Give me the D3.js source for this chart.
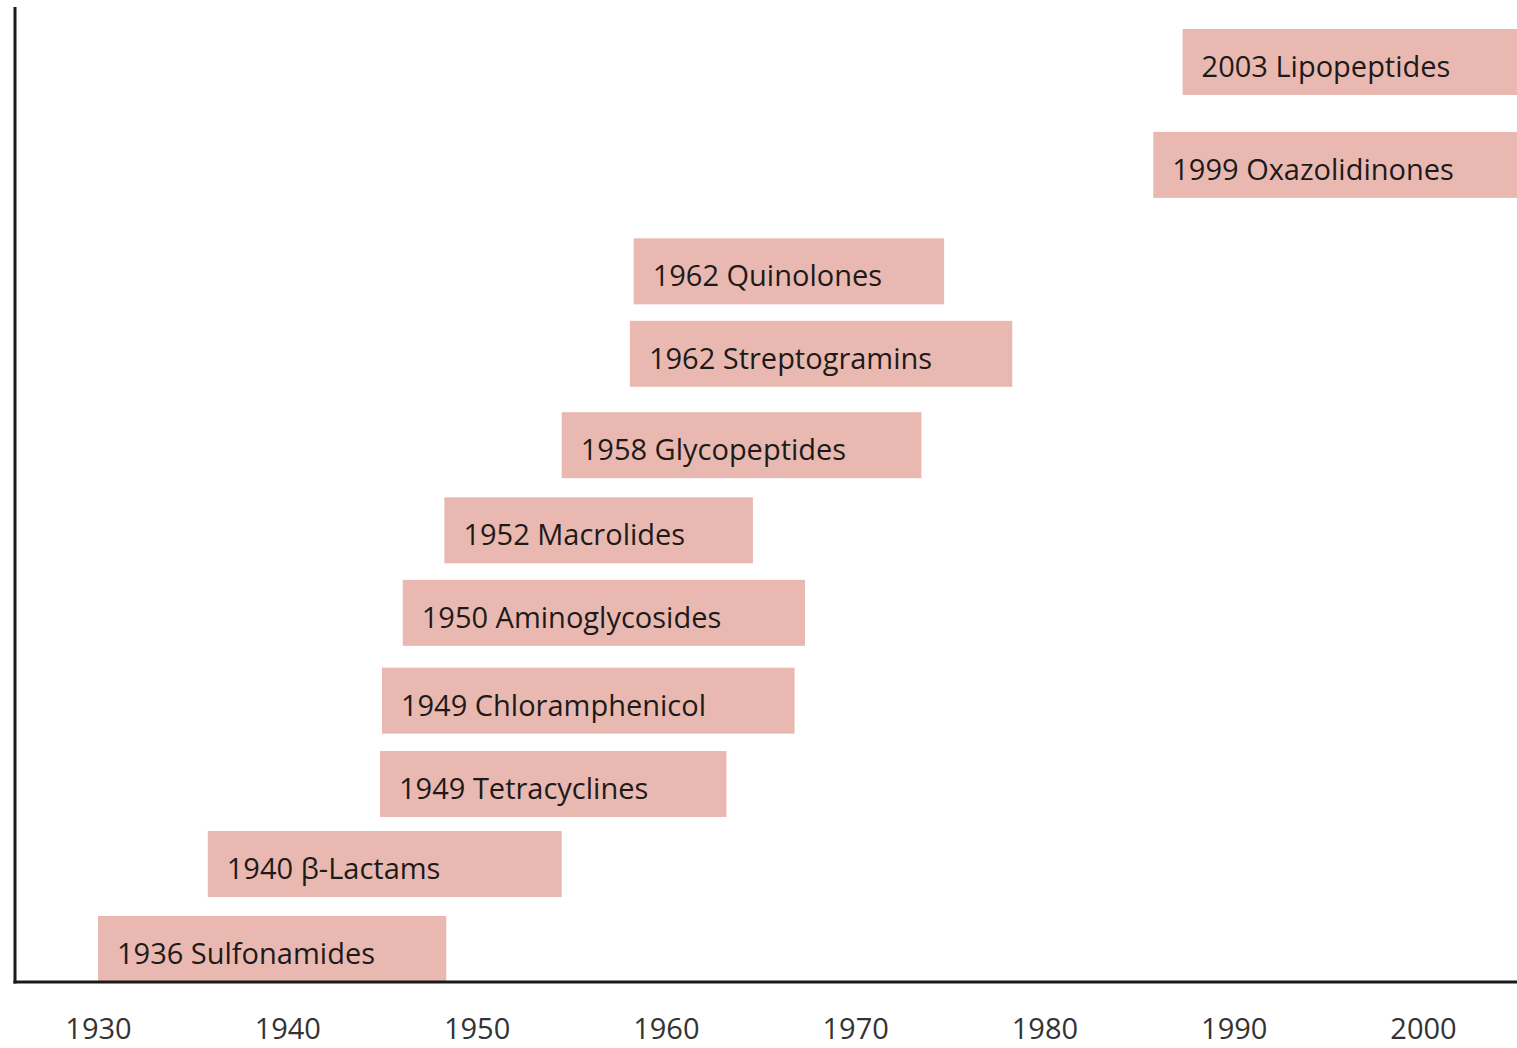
<!DOCTYPE html>
<html>
<head>
<meta charset="utf-8">
<script src="https://cdn.jsdelivr.net/npm/d3@7"></script>
<style>
  body { margin: 0; background: #fff; }
  text { font-family: "Open Sans", "Noto Sans", sans-serif; }
</style>
</head>
<body>
<div id="chart"></div>
<script type="text/javascript">
  const width = 1517,
    height = 1048;

  // antibiotic classes, bottom to top
  const labels = ['1936 Sulfonamides', '1940 \u03b2-Lactams', '1949 Tetracyclines', '1949 Chloramphenicol',
    '1950 Aminoglycosides', '1952 Macrolides', '1958 Glycopeptides', '1962 Streptogramins',
    '1962 Quinolones', '1999 Oxazolidinones', '2003 Lipopeptides'];
  // bar start / end on the year axis
  const barStart = [1930.0, 1935.8, 1944.9, 1945.0, 1946.1, 1948.3, 1954.5, 1958.1, 1958.3, 1985.75, 1987.3];
  const barEnd = [1948.4, 1954.5, 1963.2, 1966.8, 1967.35, 1964.6, 1973.5, 1978.3, 1974.7, 2006, 2006];
  // vertical lane of each bar (bottom edge)
  const rowPos = [0, 0.958, 1.86, 2.80, 3.79, 4.72, 5.68, 6.71, 7.64, 8.84, 10];
  const barThick = 0.744;
  const tickYears = [1930, 1940, 1950, 1960, 1970, 1980, 1990, 2000];

  const svg = d3.select('#chart').append("svg")
    .attr("width", width)
    .attr("height", height);

  const x = d3.scaleLinear()
    .domain([1930, 2000])
    .range([98, 1423]);

  const y = d3.scaleLinear()
    .domain([0, 10])
    .range([982, 95]);

  const axisY = 982, axisX = 15;

  svg.append("clipPath").attr("id", "clip")
    .append("rect")
    .attr("x", 0).attr("y", 0)
    .attr("width", width).attr("height", axisY);

  const bars = svg.append("g").attr("clip-path", "url(#clip)");

  var rows = d3.range(labels.length);

  bars.selectAll("rect")
    .data(rows)
    .enter()
    .append("rect")
    .attr("x", function(i) { return x(barStart[i]); })
    .attr("y", function(i) { return y(rowPos[i] + barThick); })
    .attr("width", function(i) { return x(barEnd[i]) - x(barStart[i]); })
    .attr("height", function(i) { return y(rowPos[i]) - y(rowPos[i] + barThick); })
    .style("fill", "#e9b9b1");

  bars.selectAll("text")
    .data(rows)
    .enter()
    .append("text")
    .attr("x", function(i) { return x(barStart[i]) + 19; })
    .attr("y", function(i) { return y(rowPos[i]) - 18; })
    .style("font-size", "29px")
    .style("fill", "#1e1a1a")
    .text(function(i) { return labels[i]; });

  // axes
  svg.append("line")
    .attr("x1", axisX).attr("x2", axisX)
    .attr("y1", 7).attr("y2", axisY + 1.5)
    .style("stroke", "#1a1a1a")
    .style("stroke-width", "3px");

  svg.append("line")
    .attr("x1", axisX - 1.5).attr("x2", width)
    .attr("y1", axisY).attr("y2", axisY)
    .style("stroke", "#1a1a1a")
    .style("stroke-width", "3px");

  const xAxis = svg.append("g")
    .attr("transform", "translate(0," + axisY + ")")
    .call(d3.axisBottom(x).tickValues(tickYears).tickFormat(d3.format("d")).tickSize(0).tickPadding(36));

  xAxis.select(".domain").remove();
  xAxis.selectAll("text")
    .style("font-size", "29px")
    .style("font-family", "\"Open Sans\", \"Noto Sans\", sans-serif")
    .style("fill", "#333");
</script>
</body>
</html>
